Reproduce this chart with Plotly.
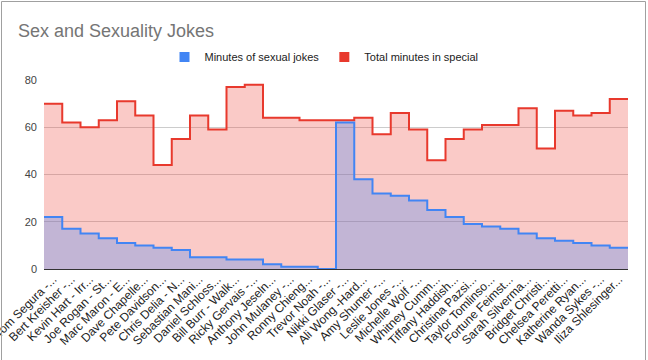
import plotly.graph_objects as go

labels = ["Tom Segura -...", "Bert Kreisher -...", "Kevin Hart - Irr...", "Joe Rogan - St...",
          "Marc Maron - E...", "Dave Chapelle...", "Pete Davidson...", "Chris Delia - N...",
          "Sebastian Mani...", "Daniel Schloss...", "Bill Burr - Walk...", "Ricky Gervais -...",
          "Anthony Jeseln...", "John Mulaney -...", "Ronny Chieng...", "Trevor Noah -...",
          "Nikki Glaser -...", "Ali Wong -Hard...", "Amy Shumer -...", "Leslie Jones -...",
          "Michelle Wolf -...", "Whitney Cumm...", "Tiffany Haddish...", "Christina Pazsi...",
          "Taylor Tomlinso...", "Fortune Feimst...", "Sarah Silverma...", "Bridget Christi...",
          "Chelsea Peretti...", "Katherine Ryan...", "Wanda Sykes -...", "Iliza Shlesinger..."]

sexual_minutes = [22, 17, 15, 13, 11, 10, 9, 8, 5, 5, 4, 4, 2, 1, 1, 0,
                  62, 38, 32, 31, 29, 25, 22, 19, 18, 17, 15, 13, 12, 11, 10, 9]
total_minutes = [70, 62, 60, 63, 71, 65, 44, 55, 65, 59, 77, 78, 64, 64, 63, 63,
                 63, 64, 57, 66, 59, 46, 55, 59, 61, 61, 68, 51, 67, 65, 66, 72]

y_ticks = [0, 20, 40, 60, 80]

n = len(labels)
edges = [i - 0.5 for i in range(n + 1)]

BLUE = "#4285f4"
RED = "#e8392d"

fig = go.Figure()

L, R, T, B = 44, 628, 80, 269
W, H = 648, 360

def px(X):
    return (X - L) / (R - L)

def py(Y):
    return (B - Y) / (B - T)

fig.add_trace(go.Scatter(
    x=edges, y=total_minutes + [total_minutes[-1]],
    mode="lines", line=dict(color=RED, width=2, shape="hv"),
    fill="tozeroy", fillcolor="rgba(238,80,70,0.3)",
    showlegend=False, hoverinfo="skip"))
fig.add_trace(go.Scatter(
    x=edges, y=sexual_minutes + [sexual_minutes[-1]],
    mode="lines", line=dict(color=BLUE, width=2, shape="hv"),
    fill="tozeroy", fillcolor="rgba(66,133,244,0.3)",
    showlegend=False, hoverinfo="skip"))

fig.add_trace(go.Scatter(x=[None], y=[None], mode="markers", name="Minutes of sexual jokes",
                         marker=dict(symbol="square", size=10, color=BLUE)))
fig.add_trace(go.Scatter(x=[None], y=[None], mode="markers", name="Total minutes in special",
                         marker=dict(symbol="square", size=10, color=RED)))

fig.update_layout(
    width=W, height=H,
    margin=dict(l=L, r=W - R, t=T, b=H - B, autoexpand=False),
    paper_bgcolor="white", plot_bgcolor="white",
    font=dict(family="Liberation Sans, Arial, sans-serif", size=11, color="#222222"),
    title=dict(text="Sex and Sexuality Jokes", x=18 / W, xanchor="left",
               y=1 - 31 / H, yanchor="middle",
               font=dict(size=18, color="#757575")),
    legend=dict(orientation="h", x=px(324), xanchor="center", y=py(57), yanchor="middle",
                font=dict(size=11, color="#222222"), itemwidth=30,
                bgcolor="rgba(0,0,0,0)"),
    xaxis=dict(range=[-0.5, n - 0.5], tickmode="array", tickvals=list(range(n)),
               ticktext=labels, tickangle=-45, showgrid=False, zeroline=False,
               showline=False, ticks="", ticklabeloverflow="allow",
               tickfont=dict(size=12, color="#222222")),
    yaxis=dict(range=[0, 80], tickmode="array", tickvals=y_ticks,
               showgrid=True, gridcolor="#cccccc", gridwidth=1, zeroline=True,
               zerolinecolor="#333333", zerolinewidth=1, showline=False, ticks="",
               ticklabelstandoff=6, tickfont=dict(size=11, color="#444444")),
    shapes=[dict(type="rect", xref="paper", yref="paper", layer="above",
                 x0=px(1.5), x1=px(645.5), y0=py(1.5), y1=py(370),
                 line=dict(color="#a0a0a0", width=1), fillcolor="rgba(0,0,0,0)")],
)

fig.write_html("out.html", config={"displayModeBar": False},
               post_script="document.body.style.margin='0';document.body.style.overflow='hidden';")
